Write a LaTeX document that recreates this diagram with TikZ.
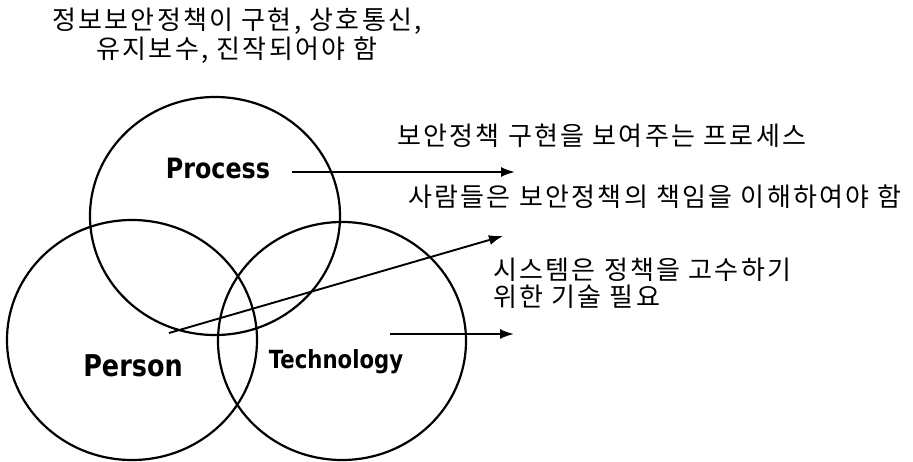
\documentclass[tikz,border=0pt]{standalone}
\usepackage{fontspec}
\usetikzlibrary{arrows.meta,shapes.geometric}
\newfontfamily\kr{Noto Sans CJK KR}[LetterSpace=9]
\newfontfamily\lab{DejaVu Sans}[FakeStretch=0.85]
\tikzset{
  ring/.style={draw, ellipse, line width=2.2pt, inner sep=0pt},
  krtext/.style={font=\kr\fontsize{26}{27}\selectfont, inner sep=0pt},
  labtext/.style={font=\lab\bfseries, inner sep=0pt, anchor=base},
  pointer/.style={line width=1.9pt, -{Latex[length=14pt,width=10pt]}}
}
\begin{document}
\begin{tikzpicture}[x=1pt,y=-1pt]
\useasboundingbox (0,0) rectangle (913,461);
% circles
\node[ring, minimum width=250pt, minimum height=238pt] (procring) at (215,216) {};
\node[ring, minimum width=250pt, minimum height=240pt] (persring) at (132,340) {};
\node[ring, minimum width=248pt, minimum height=238pt] (techring) at (342,341) {};
% labels
\node[labtext, font=\lab\bfseries\fontsize{28}{30}\selectfont] (proc) at (218,178) {Process};
\node[labtext, font=\lab\bfseries\fontsize{30}{32}\selectfont] (pers) at (133,376) {Person};
\node[labtext, font=\lab\bfseries\fontsize{25}{27}\selectfont] (tech) at (336,368) {Technology};
% title
\node[krtext, align=center, font=\kr\fontsize{26}{29}\selectfont] (title) at (237,36) {정보보안정책이 구현, 상호통신,\\유지보수, 진작되어야 함};
% right texts
\node[krtext, anchor=west] (t1) at (397,136) {보안정책 구현을 보여주는 프로세스};
\node[krtext, anchor=west] (t2) at (408,197) {사람들은 보안정책의 책임을 이해하여야 함};
\node[krtext, anchor=west, align=left] (t3) at (493,283) {시스템은 정책을 고수하기\\위한 기술 필요};
% arrow end points
\coordinate (a1s) at (292,172);
\coordinate (a1e) at (515,172);
\coordinate (a2s) at (169,333);
\coordinate (a2e) at (503,236);
\coordinate (a3s) at (390,334);
\coordinate (a3e) at (514,334);
\draw[pointer] (a1s) -- (a1e);
\draw[pointer] (a2s) -- (a2e);
\draw[pointer] (a3s) -- (a3e);
\end{tikzpicture}
\end{document}
